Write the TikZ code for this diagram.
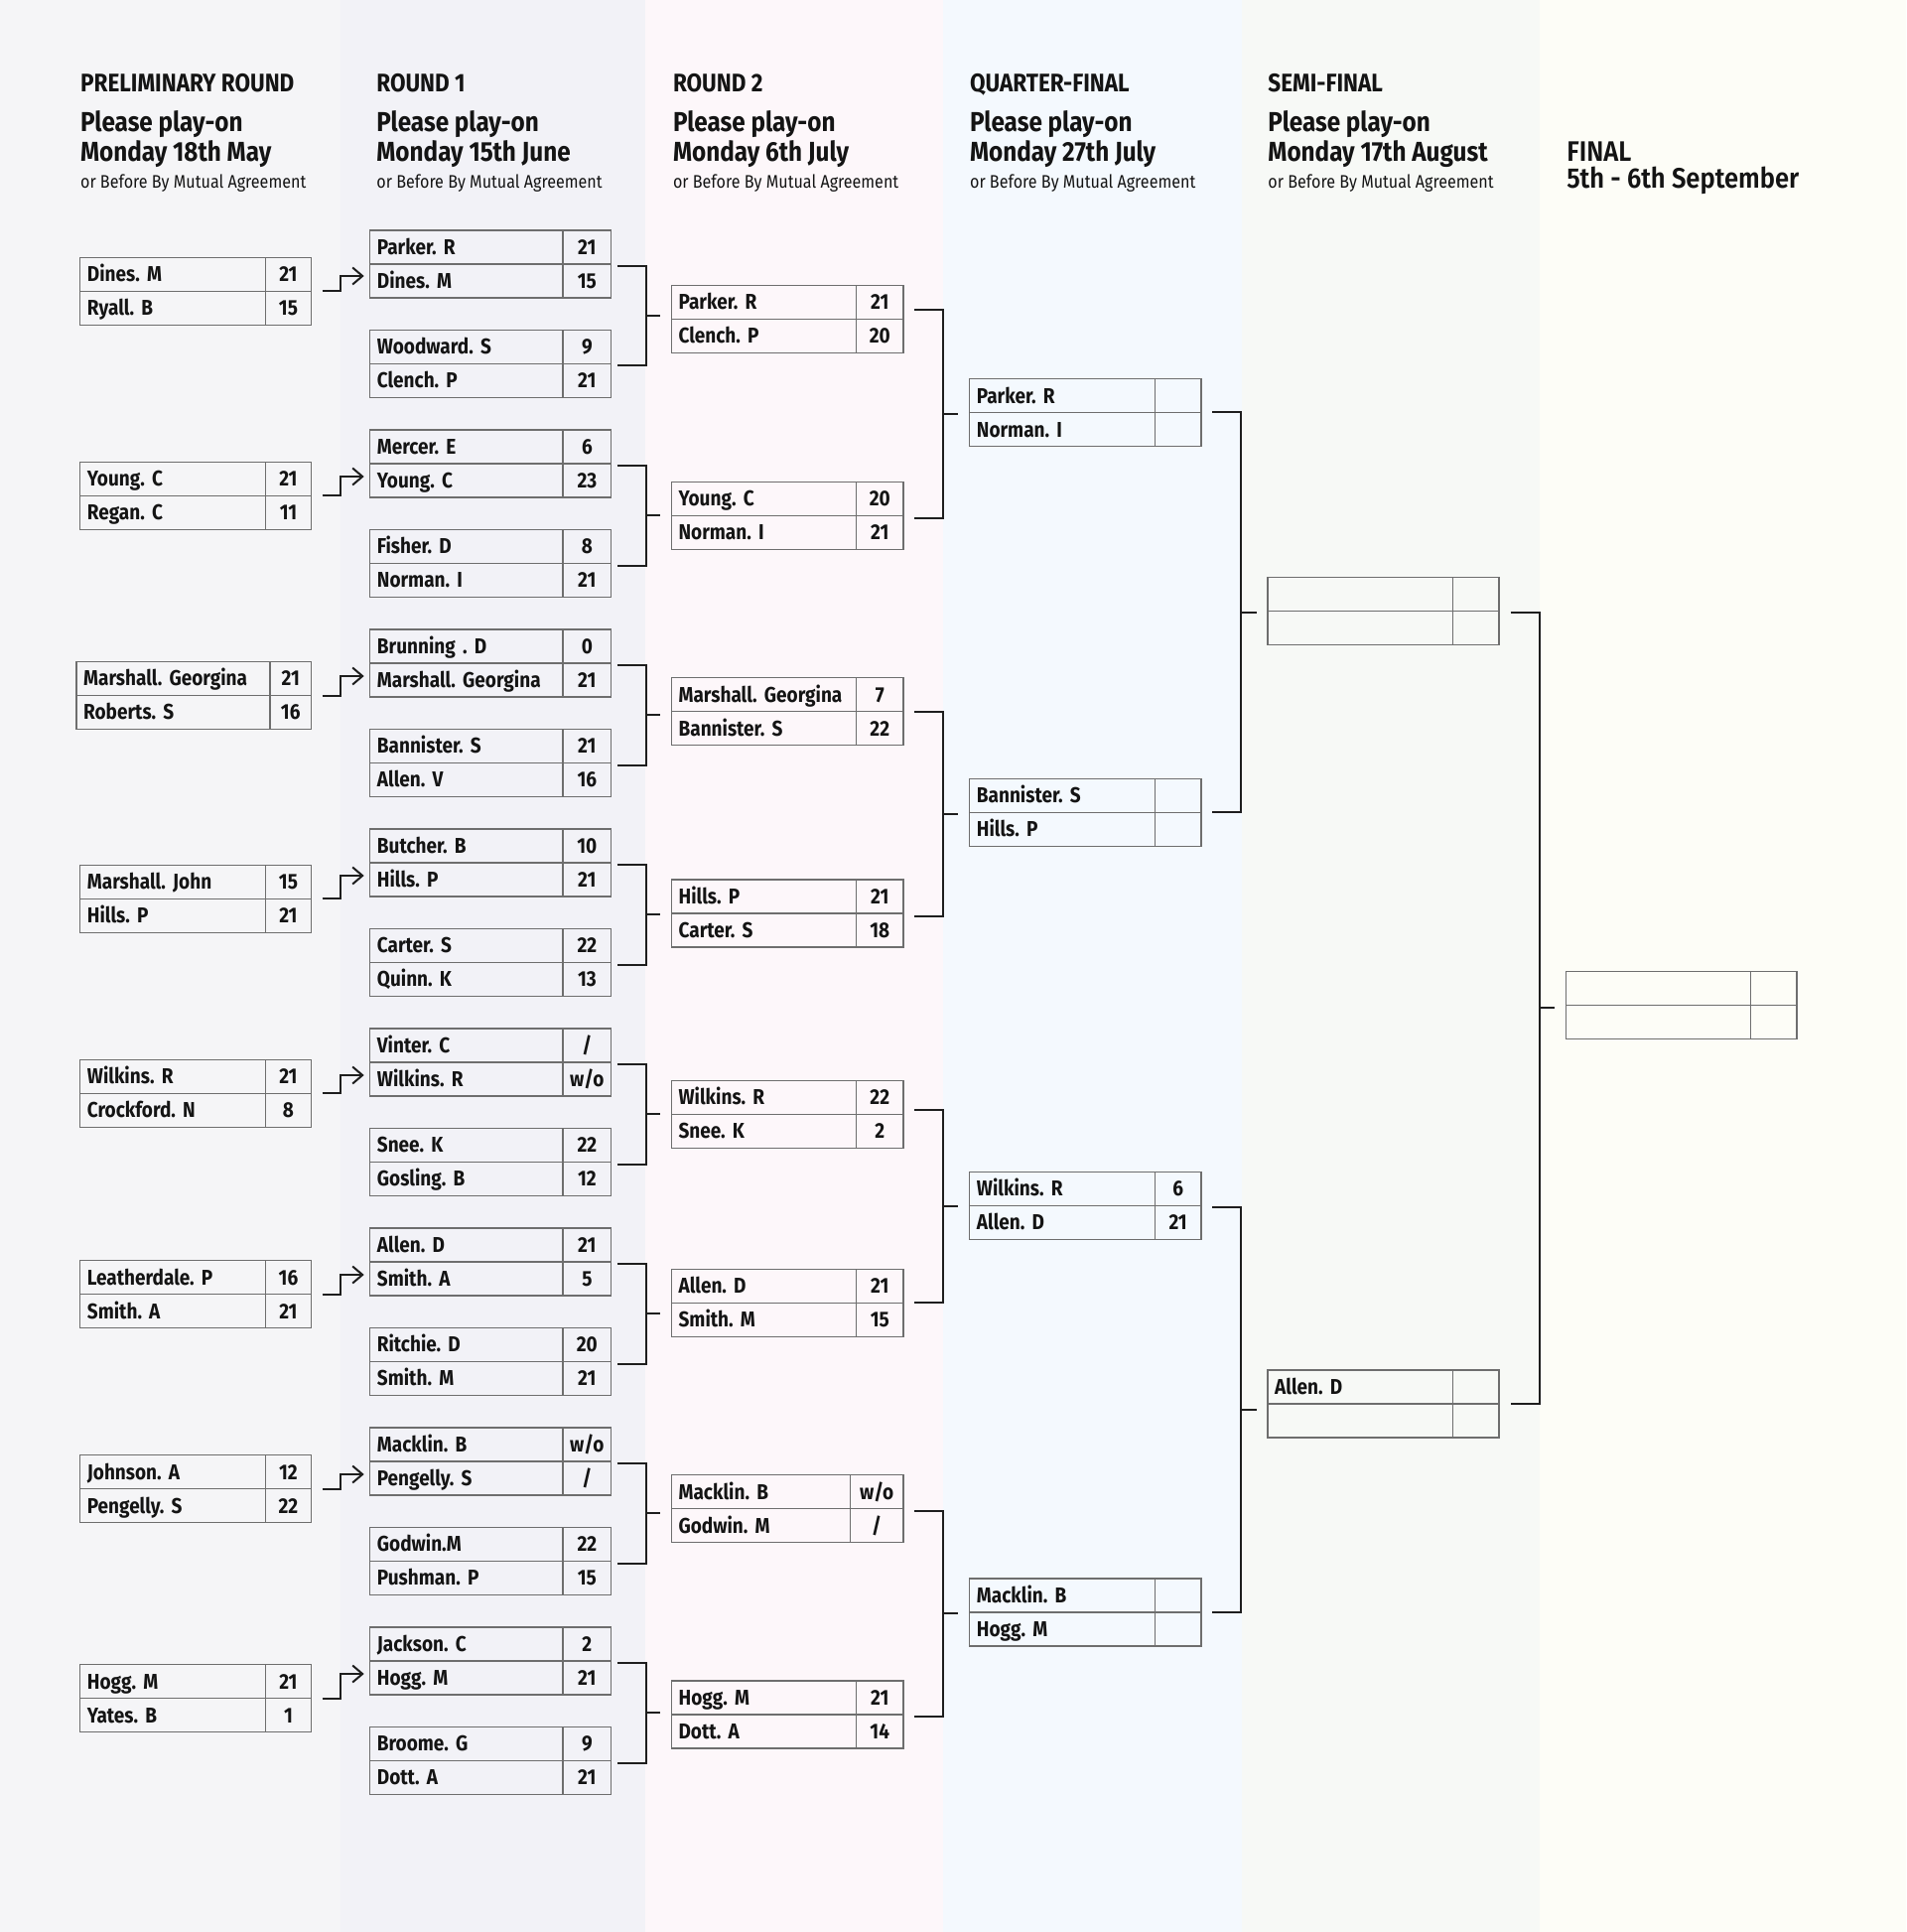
\documentclass[tikz,border=0pt]{standalone}
\usepackage{fontspec}
\setmainfont{Fira Sans}[FakeStretch=0.88]
\newfontfamily\boldf{Fira Sans Bold}[FakeStretch=0.88]
\newfontfamily\semib{Fira Sans SemiBold}[FakeStretch=0.9]
\usetikzlibrary{calc,arrows.meta}
\definecolor{bgA}{HTML}{F5F5F7}
\definecolor{bgB}{HTML}{F2F2F7}
\definecolor{bgC}{HTML}{FDF7FA}
\definecolor{bgD}{HTML}{F4F9FE}
\definecolor{bgE}{HTML}{F7F9F6}
\definecolor{bgF}{HTML}{FDFDF7}
\definecolor{boxc}{HTML}{6E6E6E}
\definecolor{linec}{HTML}{1E1E1E}
\definecolor{txt}{HTML}{141414}
\tikzset{
  cell/.style={draw=boxc, line width=0.7pt, rectangle, anchor=north west, outer sep=0pt,
    minimum height=17pt, inner ysep=0pt, text height=7.4pt, text depth=0pt,
    font=\boldf\fontsize{10.8pt}{12pt}\selectfont, text=txt},
  namecell/.style={cell, inner xsep=3.6pt, align=left},
  scorecell/.style={cell, inner xsep=0pt, align=center},
  br/.style={draw=linec, line width=1pt},
  hdr/.style={anchor=base west, inner sep=0pt, text=txt},
  ttl/.style={hdr, font=\boldf\fontsize{12.8pt}{14pt}\selectfont},
  big/.style={hdr, font=\boldf\fontsize{13.8pt}{15pt}\selectfont},
  sub/.style={hdr, font=\fontsize{9.15pt}{12pt}\selectfont},
  fin/.style={hdr, font=\semib\fontsize{14.2pt}{14pt}\selectfont, align=left},
}
\newcommand\match[9]{%
  \pgfmathsetmacro\mytw{#4*0.5-7.2}%
  \pgfmathsetmacro\mysw{#5*0.5}%
  \node[namecell,text width=\mytw pt] (#1-n1) at (#2,#3) {#6};
  \node[scorecell,minimum width=\mysw pt] (#1-s1) at (#1-n1.north east) {#7};
  \node[namecell,text width=\mytw pt] (#1-n2) at (#1-n1.south west) {#8};
  \node[scorecell,minimum width=\mysw pt] (#1-s2) at (#1-n2.north east) {#9};
}
\newcommand\bracket[6]{%
  \coordinate (#1-o) at ($(#1-s1.south east)+(#4,#5)$);
  \coordinate (#2-o) at ($(#2-s1.south east)+(#4,#6)$);
  \draw[br] (#1-o) -- ++(29,0) coordinate (#1-v) |- (#2-o);
  \coordinate (#2-v) at (#1-v |- #2-o);
  \coordinate (#3-in) at ($(#1-v)!0.5!(#2-v)$);
  \draw[br] (#3-in) -- ($(#3-in -| #3-n1.west)+(-11.5,0)$);
}
\newcommand\feed[3]{%
  \draw[br,-{Straight Barb[length=5pt,width=8.5pt,line width=1pt]}]
    ($(#1-s1.south east)+(11,0)$) -- ++(18.5,0) |- ($(#2-n2.west)+(-6,#3)$);
}
\begin{document}
\frenchspacing
\begin{tikzpicture}[x=0.5pt,y=-0.5pt]
\useasboundingbox (0,0) rectangle (1920,1946);
\fill[bgA] (0,0) rectangle (343,1946);
\fill[bgB] (343,0) rectangle (650,1946);
\fill[bgC] (650,0) rectangle (950,1946);
\fill[bgD] (950,0) rectangle (1251,1946);
\fill[bgE] (1251,0) rectangle (1551,1946);
\fill[bgF] (1551,0) rectangle (1920,1946);

% headers
\node[ttl] (h0) at (80.7,93) {PRELIMINARY ROUND};
\node[big] (h0a) at (80.7,132.5) {Please play-on};
\node[big] (h0b) at (80.7,162.5) {Monday 18th May};
\node[sub] (h0c) at (80.7,190) {or Before By Mutual Agreement};

\node[ttl] (h1) at (379,93) {ROUND 1};
\node[big] (h1a) at (379,132.5) {Please play-on};
\node[big] (h1b) at (379,162.5) {Monday 15th June};
\node[sub] (h1c) at (379,190) {or Before By Mutual Agreement};

\node[ttl] (h2) at (677.6,93) {ROUND 2};
\node[big] (h2a) at (677.6,132.5) {Please play-on};
\node[big] (h2b) at (677.6,162.5) {Monday 6th July};
\node[sub] (h2c) at (677.6,190) {or Before By Mutual Agreement};

\node[ttl] (h3) at (976.7,93) {QUARTER-FINAL};
\node[big] (h3a) at (976.7,132.5) {Please play-on};
\node[big] (h3b) at (976.7,162.5) {Monday 27th July};
\node[sub] (h3c) at (976.7,190) {or Before By Mutual Agreement};

\node[ttl] (h4) at (1277,93) {SEMI-FINAL};
\node[big] (h4a) at (1277,132.5) {Please play-on};
\node[big] (h4b) at (1277,162.5) {Monday 17th August};
\node[sub] (h4c) at (1277,190) {or Before By Mutual Agreement};

\node[fin] (h5a) at (1578,163) {FINAL};
\node[fin] (h5b) at (1578,190) {5th - 6th September};

% preliminary round
\match{p0}{80.7}{259.4}{186.5}{46.5}{Dines. M}{21}{Ryall. B}{15}
\match{p1}{80.7}{465.4}{186.5}{46.5}{Young. C}{21}{Regan. C}{11}
\match{p2}{77}{666.5}{194.8}{41.9}{Marshall. Georgina}{21}{Roberts. S}{16}
\match{p3}{80.7}{871.3}{186.5}{46.5}{Marshall. John}{15}{Hills. P}{21}
\match{p4}{80.7}{1067.3}{186.5}{46.5}{Wilkins. R}{21}{Crockford. N}{8}
\match{p5}{80.7}{1269.6}{186.5}{46.5}{Leatherdale. P}{16}{Smith. A}{21}
\match{p6}{80.7}{1465.7}{186.5}{46.5}{Johnson. A}{12}{Pengelly. S}{22}
\match{p7}{80.7}{1676.7}{186.5}{46.5}{Hogg. M}{21}{Yates. B}{1}

% round 1
\match{a0}{372.7}{232}{194.3}{48.7}{Parker. R}{21}{Dines. M}{15}
\match{a1}{372.7}{332.5}{194.3}{48.7}{Woodward. S}{9}{Clench. P}{21}
\match{a2}{372.7}{433}{194.3}{48.7}{Mercer. E}{6}{Young. C}{23}
\match{a3}{372.7}{533.5}{194.3}{48.7}{Fisher. D}{8}{Norman. I}{21}
\match{a4}{372.7}{634}{194.3}{48.7}{Brunning . D}{0}{Marshall. Georgina}{21}
\match{a5}{372.7}{734.5}{194.3}{48.7}{Bannister. S}{21}{Allen. V}{16}
\match{a6}{372.7}{835}{194.3}{48.7}{Butcher. B}{10}{Hills. P}{21}
\match{a7}{372.7}{935.5}{194.3}{48.7}{Carter. S}{22}{Quinn. K}{13}
\match{a8}{372.7}{1036}{194.3}{48.7}{Vinter. C}{/}{Wilkins. R}{w/o}
\match{a9}{372.7}{1136.5}{194.3}{48.7}{Snee. K}{22}{Gosling. B}{12}
\match{a10}{372.7}{1237}{194.3}{48.7}{Allen. D}{21}{Smith. A}{5}
\match{a11}{372.7}{1337.5}{194.3}{48.7}{Ritchie. D}{20}{Smith. M}{21}
\match{a12}{372.7}{1438}{194.3}{48.7}{Macklin. B}{w/o}{Pengelly. S}{/}
\match{a13}{372.7}{1538.5}{194.3}{48.7}{Godwin.M}{22}{Pushman. P}{15}
\match{a14}{372.7}{1639}{194.3}{48.7}{Jackson. C}{2}{Hogg. M}{21}
\match{a15}{372.7}{1739.5}{194.3}{48.7}{Broome. G}{9}{Dott. A}{21}

% round 2
\match{b0}{676.4}{287.3}{186.2}{47.3}{Parker. R}{21}{Clench. P}{20}
\match{b1}{676.4}{485.3}{186.2}{47.3}{Young. C}{20}{Norman. I}{21}
\match{b2}{676.4}{682.6}{186.2}{47.3}{Marshall. Georgina}{7}{Bannister. S}{22}
\match{b3}{676.4}{886.1}{186.2}{47.3}{Hills. P}{21}{Carter. S}{18}
\match{b4}{676.4}{1088.4}{186.2}{47.3}{Wilkins. R}{22}{Snee. K}{2}
\match{b5}{676.4}{1278.3}{186.2}{47.3}{Allen. D}{21}{Smith. M}{15}
\match{b6}{676.4}{1485.6}{180}{53.5}{Macklin. B}{w/o}{Godwin. M}{/}
\match{b7}{676.4}{1692.9}{186.2}{47.3}{Hogg. M}{21}{Dott. A}{14}

% quarter-finals
\match{c0}{976.7}{381.7}{186.5}{46.8}{Parker. R}{}{Norman. I}{}
\match{c1}{976.7}{784.4}{186.5}{46.8}{Bannister. S}{}{Hills. P}{}
\match{c2}{976.7}{1180.3}{186.5}{46.8}{Wilkins. R}{6}{Allen. D}{21}
\match{c3}{976.7}{1589.9}{186.5}{46.8}{Macklin. B}{}{Hogg. M}{}

% semi-finals
\match{d0}{1277}{581.7}{186.5}{46.5}{}{}{}{}
\match{d1}{1277}{1380.1}{186.5}{46.5}{Allen. D}{}{}{}

% final
\match{f0}{1577.3}{978.3}{186}{46.7}{}{}{}{}

% preliminary feeds
\feed{p0}{a0}{-5}
\feed{p1}{a2}{-4}
\feed{p2}{a4}{-4}
\feed{p3}{a6}{-4}
\feed{p4}{a8}{-4}
\feed{p5}{a10}{-4}
\feed{p6}{a12}{-4}
\feed{p7}{a14}{-4}

% round 1 -> round 2
\bracket{a0}{a1}{b0}{6}{2}{2}
\bracket{a2}{a3}{b1}{6}{2}{2}
\bracket{a4}{a5}{b2}{6}{2}{2}
\bracket{a6}{a7}{b3}{6}{2}{2}
\bracket{a8}{a9}{b4}{6}{2}{2}
\bracket{a10}{a11}{b5}{6}{2}{2}
\bracket{a12}{a13}{b6}{6}{2}{2}
\bracket{a14}{a15}{b7}{6}{2}{2}

% round 2 -> quarter-finals
\bracket{b0}{b1}{c0}{11}{-9.6}{3}
\bracket{b2}{b3}{c1}{11}{0}{3}
\bracket{b4}{b5}{c2}{11}{-4}{0}
\bracket{b6}{b7}{c3}{11}{2}{2}

% quarter-finals -> semi-finals
\bracket{c0}{c1}{d0}{11}{-1}{0}
\bracket{c2}{c3}{d1}{11}{2}{0}

% semi-finals -> final
\bracket{d0}{d1}{f0}{11.5}{1}{0}
\end{tikzpicture}
\end{document}
